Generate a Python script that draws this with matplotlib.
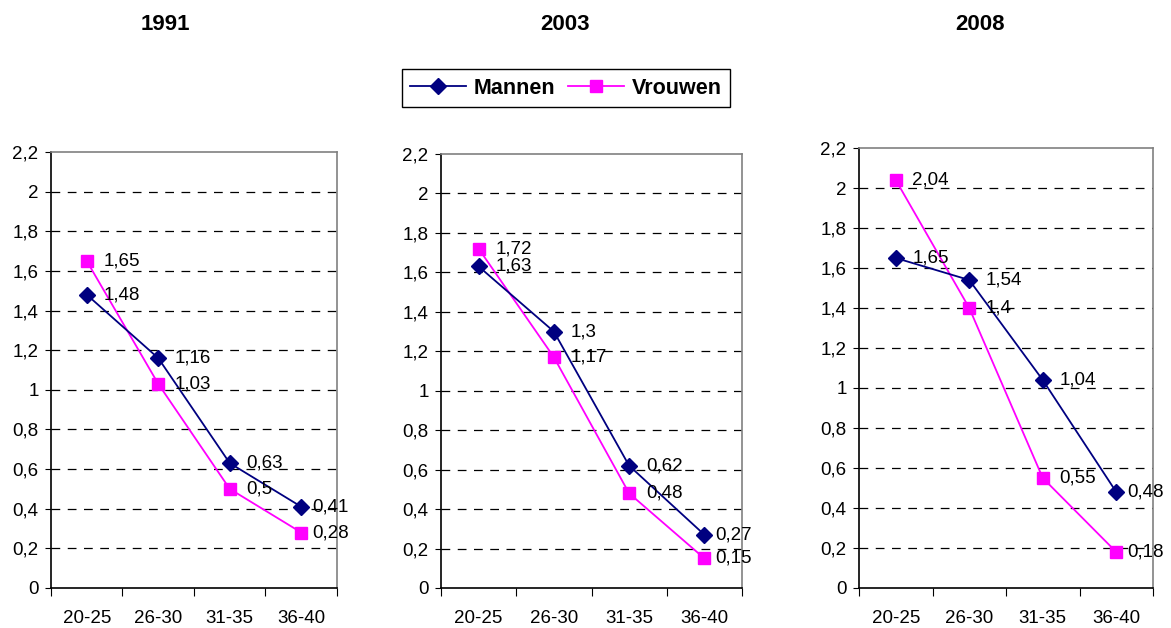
import matplotlib
matplotlib.use('Agg')
import matplotlib.pyplot as plt
from matplotlib.lines import Line2D

plt.rcParams['font.family'] = ['Liberation Sans', 'DejaVu Sans']

# data
years = ['1991', '2003', '2008']
age_groups = ['20-25', '26-30', '31-35', '36-40']
mannen = [
    [1.48, 1.16, 0.63, 0.41],
    [1.63, 1.30, 0.62, 0.27],
    [1.65, 1.54, 1.04, 0.48],
]
vrouwen = [
    [1.65, 1.03, 0.50, 0.28],
    [1.72, 1.17, 0.48, 0.15],
    [2.04, 1.40, 0.55, 0.18],
]
yticks = [0, 0.2, 0.4, 0.6, 0.8, 1.0, 1.2, 1.4, 1.6, 1.8, 2.0, 2.2]

NAVY = '#000080'
MAGENTA = '#FF00FF'
GREY = '#808080'

W, H = 1171, 628
fig = plt.figure(figsize=(W / 100, H / 100), dpi=100)
fig.patch.set_facecolor('white')

# panel boxes in pixels: left, right, top, bottom
boxes = [(51, 337, 152, 588), (441, 742, 154, 588), (859, 1153, 148, 588)]
title_x = [165, 565, 980]
FS = 13.5


def fmt(v):
    return f"{v:g}".replace('.', ',')


for i, (l, r, t, b) in enumerate(boxes):
    ax = fig.add_axes([l / W, 1 - b / H, (r - l) / W, (b - t) / H])
    xs = [k + 0.5 for k in range(len(age_groups))]
    ax.plot(xs, mannen[i], color=NAVY, lw=1.3, marker='D', ms=8.5, zorder=4)
    ax.plot(xs, vrouwen[i], color=MAGENTA, lw=1.3, marker='s', ms=8, zorder=3)
    # labels beside each point; the last column sits closer to its marker
    for series in (mannen[i], vrouwen[i]):
        for k, (x, v) in enumerate(zip(xs, series)):
            dx = 8 if k == len(xs) - 1 else 12
            ax.annotate(fmt(v), (x, v), xytext=(dx, 0), textcoords='offset points',
                        ha='left', va='center', fontsize=FS, zorder=5)

    ax.set_xlim(0, 4)
    ax.set_ylim(0, 2.2)
    ax.set_yticks(yticks)
    ax.set_yticklabels([fmt(v) for v in yticks], fontsize=FS)
    ax.set_xticks([0, 1, 2, 3, 4])
    ax.set_xticklabels([])
    ax.set_xticks(xs, minor=True)
    ax.set_xticklabels(age_groups, minor=True, fontsize=FS)
    ax.tick_params(axis='x', which='major', length=6, direction='out', color='black')
    ax.tick_params(axis='x', which='minor', length=0, pad=15.5)
    ax.tick_params(axis='y', length=4, direction='out', color='black', pad=5)

    for yv in yticks[1:-1]:
        ax.axhline(yv, color='black', lw=0.9, ls=(0, (7, 6)), zorder=1)

    ax.spines['left'].set_color('black')
    ax.spines['bottom'].set_color('black')
    ax.spines['top'].set_color(GREY)
    ax.spines['right'].set_color(GREY)
    for s in ax.spines.values():
        s.set_linewidth(1.2)

    fig.text(title_x[i] / W, 1 - 25 / H, years[i], ha='center', va='center',
             fontsize=16, fontweight='bold')

# legend
handles = [
    Line2D([], [], color=NAVY, lw=1.3, marker='D', ms=8.5),
    Line2D([], [], color=MAGENTA, lw=1.3, marker='s', ms=8),
]
leg = fig.legend(handles, ['Mannen', 'Vrouwen'], loc='center',
                 bbox_to_anchor=(566 / W, 1 - 88 / H), ncol=2, fancybox=False,
                 shadow=False, edgecolor='black', framealpha=1,
                 prop={'weight': 'bold', 'size': 15.5}, handlelength=2.6,
                 columnspacing=0.6, handletextpad=0.35, borderpad=0.4)
leg.get_frame().set_linewidth(1.0)

plt.savefig('out.png', dpi=100, facecolor='white')
plt.close()
